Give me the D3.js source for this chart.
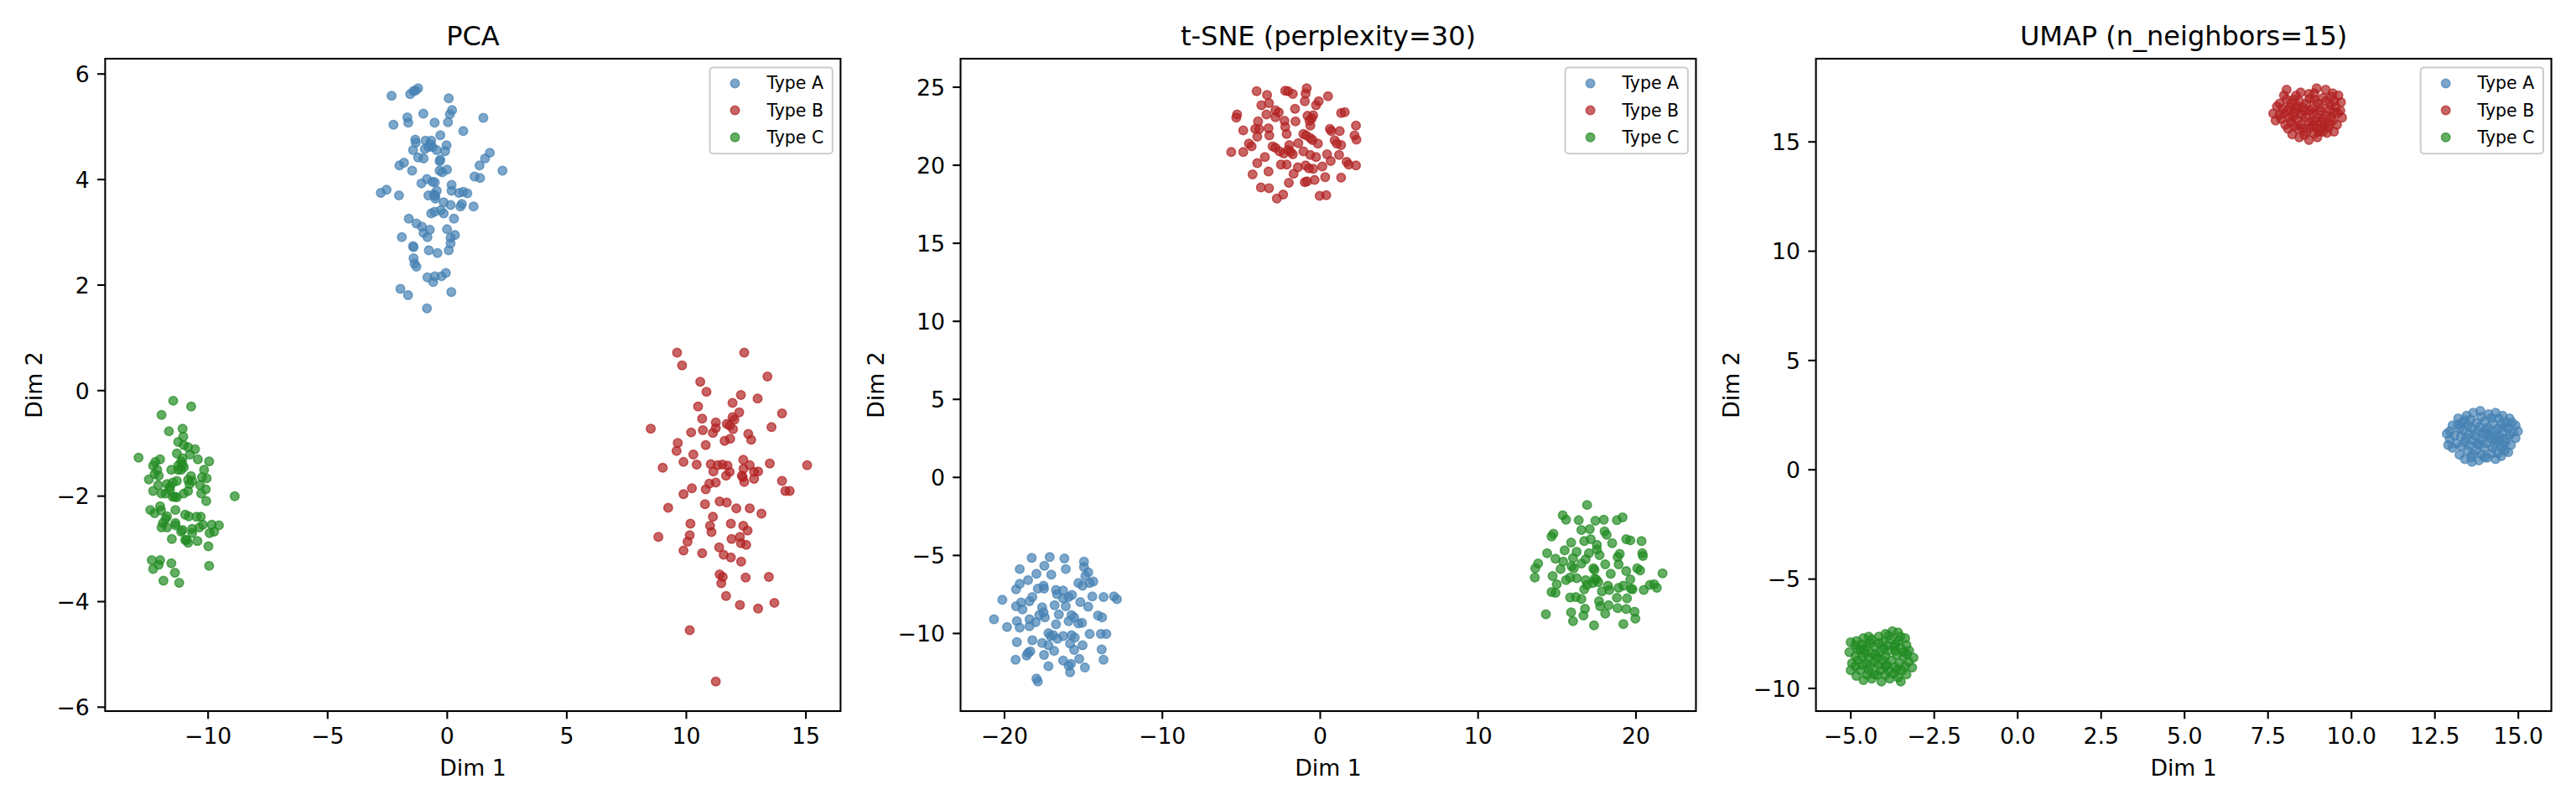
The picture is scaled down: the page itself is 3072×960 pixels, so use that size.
<!DOCTYPE html>
<html>
<head>
<meta charset="utf-8">
<script src="https://cdn.jsdelivr.net/npm/d3@7"></script>
<style>
body { margin: 0; background: #fff; }
text { font-family: "DejaVu Sans", sans-serif; }
</style>
</head>
<body>
<svg width="3072" height="960"></svg>
<script>
var categories = ["Type A", "Type B", "Type C"];
var colors = ["steelblue", "firebrick", "forestgreen"];
var titles = ["PCA", "t-SNE (perplexity=30)", "UMAP (n_neighbors=15)"];

var pcaXTicks = [-10, -5, 0, 5, 10, 15];
var pcaYTicks = [-6, -4, -2, 0, 2, 4, 6];
var tsneXTicks = [-20, -10, 0, 10, 20];
var tsneYTicks = [-10, -5, 0, 5, 10, 15, 20, 25];
var umapXTicks = [-5, -2.5, 0, 2.5, 5, 7.5, 10, 12.5, 15];
var umapYTicks = [-10, -5, 0, 5, 10, 15];

// PCA embedding
var pcaA = [[-2.31,5.58],[-1.53,5.61],[-1.39,5.67],[-1.20,5.72],[-1.30,5.68],[0.08,5.53],[0.22,5.31],[0.13,5.23],[1.53,5.16],[-1.65,5.17],
  [-1.61,5.07],[-2.23,5.03],[-0.98,5.24],[-0.51,5.07],[0.05,5.08],[0.69,4.91],[-0.27,4.83],[-1.32,4.75],[-1.30,4.69],[-0.89,4.73],
  [-0.65,4.73],[-0.77,4.61],[-0.92,4.57],[-0.60,4.61],[-0.42,4.55],[-0.01,4.64],[-0.07,4.53],[-1.41,4.55],[-1.20,4.41],[-0.97,4.39],
  [-0.30,4.34],[1.80,4.50],[1.60,4.39],[1.37,4.26],[2.33,4.16],[-1.98,4.26],[-1.79,4.31],[-1.45,4.16],[-0.30,4.16],[-0.19,4.13],
  [0.01,4.18],[1.16,4.05],[1.39,4.02],[-1.06,3.92],[-0.83,4.00],[-0.60,3.95],[-0.50,3.94],[0.20,3.89],[0.20,3.78],[-2.76,3.74],
  [-2.52,3.80],[-2.00,3.69],[-0.77,3.69],[-0.54,3.71],[-0.42,3.78],[-0.48,3.63],[0.51,3.74],[0.69,3.76],[0.86,3.73],[-0.13,3.56],
  [0.16,3.51],[0.63,3.53],[0.57,3.48],[1.12,3.48],[-0.25,3.41],[-0.13,3.35],[-0.65,3.35],[-0.51,3.38],[0.30,3.25],[-1.59,3.25],
  [-1.27,3.16],[-1.04,3.10],[-0.71,3.04],[-0.97,2.98],[-0.81,2.90],[0.01,3.05],[0.16,2.89],[0.34,2.94],[0.16,2.78],[0.08,2.65],
  [-1.88,2.90],[-1.39,2.71],[-0.75,2.65],[-0.39,2.60],[-1.39,2.50],[-1.35,2.40],[-1.27,2.34],[-0.81,2.14],[-0.50,2.16],[-0.57,2.05],
  [-0.22,2.16],[-0.04,2.22],[-1.94,1.92],[-1.62,1.80],[0.19,1.86],[-0.83,1.55],[-0.27,4.37],[-0.69,4.66],[-0.48,3.68],[-1.41,2.73]];
var pcaB = [[9.63,0.71],[12.44,0.71],[9.84,0.47],[13.41,0.26],[10.60,0.16],[10.86,-0.03],[12.30,-0.09],[13.00,-0.16],[11.95,-0.24],[10.51,-0.31],
  [12.23,-0.42],[14.02,-0.44],[10.68,-0.54],[11.25,-0.61],[11.95,-0.51],[12.03,-0.56],[11.71,-0.64],[11.83,-0.67],[11.97,-0.74],[11.25,-0.72],
  [11.13,-0.81],[10.71,-0.76],[10.22,-0.80],[8.53,-0.73],[13.58,-0.70],[12.61,-0.83],[12.73,-0.94],[11.62,-0.96],[11.85,-0.92],[9.66,-1.00],
  [9.61,-1.15],[10.83,-1.04],[10.31,-1.22],[9.90,-1.36],[10.45,-1.41],[9.03,-1.47],[11.04,-1.40],[11.33,-1.42],[11.53,-1.41],[11.74,-1.43],
  [11.15,-1.54],[11.83,-1.55],[11.68,-1.62],[12.40,-1.32],[12.67,-1.42],[12.41,-1.49],[12.34,-1.62],[12.44,-1.74],[12.85,-1.55],[13.02,-1.54],
  [12.85,-1.68],[13.51,-1.39],[15.07,-1.42],[14.02,-1.72],[14.16,-1.91],[14.34,-1.91],[11.25,-1.75],[10.98,-1.77],[10.83,-1.88],[10.25,-1.86],
  [9.90,-1.97],[9.26,-2.23],[10.80,-2.16],[11.41,-2.11],[11.71,-2.13],[12.11,-2.24],[12.67,-2.24],[13.16,-2.34],[11.13,-2.40],[11.01,-2.57],
  [11.07,-2.69],[10.19,-2.53],[10.16,-2.75],[10.07,-2.87],[9.90,-3.04],[8.85,-2.78],[10.68,-3.09],[11.88,-2.53],[12.40,-2.57],[12.58,-2.66],
  [11.91,-2.82],[12.26,-2.78],[12.30,-2.90],[12.52,-2.93],[11.39,-2.98],[11.58,-3.12],[11.88,-3.17],[12.31,-3.25],[11.41,-3.49],[11.54,-3.54],
  [11.48,-3.66],[12.50,-3.55],[13.47,-3.54],[11.68,-3.90],[12.26,-4.07],[13.02,-4.14],[13.70,-4.03],[10.16,-4.55],[11.25,-5.52],[12.38,-1.65]];
var pcaC = [[-11.44,-0.20],[-10.69,-0.31],[-11.93,-0.47],[-11.62,-0.78],[-11.05,-0.73],[-11.02,-0.88],[-11.23,-0.98],[-11.00,-1.04],[-10.82,-1.08],[-10.53,-1.12],
  [-11.29,-1.20],[-10.74,-1.22],[-10.41,-1.31],[-12.89,-1.28],[-11.99,-1.31],[-12.19,-1.36],[-12.28,-1.43],[-11.11,-1.35],[-11.23,-1.43],[-11.00,-1.46],
  [-9.94,-1.35],[-10.15,-1.51],[-11.52,-1.51],[-11.11,-1.51],[-12.22,-1.59],[-12.46,-1.69],[-10.70,-1.63],[-10.82,-1.70],[-10.24,-1.65],[-10.04,-1.67],
  [-11.70,-1.78],[-11.46,-1.75],[-11.29,-1.72],[-11.58,-1.83],[-12.07,-1.80],[-12.28,-1.91],[-10.76,-1.78],[-10.32,-1.80],[-10.08,-1.88],[-11.93,-1.96],
  [-11.76,-1.96],[-11.46,-2.02],[-11.29,-2.03],[-11.00,-1.96],[-10.82,-1.91],[-10.27,-1.96],[-10.06,-2.10],[-8.87,-2.01],[-12.40,-2.27],[-12.22,-2.33],
  [-11.99,-2.20],[-11.95,-2.28],[-11.35,-2.27],[-11.70,-2.39],[-11.87,-2.52],[-11.76,-2.44],[-11.35,-2.52],[-10.94,-2.36],[-10.79,-2.39],[-10.47,-2.40],
  [-10.29,-2.40],[-11.93,-2.60],[-11.70,-2.60],[-11.35,-2.56],[-11.05,-2.65],[-10.65,-2.63],[-10.35,-2.60],[-10.20,-2.55],[-9.83,-2.55],[-9.53,-2.56],
  [-9.92,-2.71],[-9.73,-2.68],[-10.65,-2.71],[-11.50,-2.82],[-10.94,-2.84],[-10.82,-2.89],[-10.43,-2.86],[-9.97,-2.96],[-12.34,-3.22],[-11.99,-3.22],
  [-12.05,-3.31],[-12.28,-3.39],[-11.52,-3.28],[-11.37,-3.46],[-11.85,-3.61],[-11.19,-3.65],[-9.94,-3.33],[-11.11,-2.68],[-11.58,-1.89],[-10.88,-2.84],
  [-11.05,-1.29],[-11.05,-1.41],[-10.65,-1.72],[-11.37,-2.02],[-12.05,-1.62],[-11.23,-1.51],[-12.11,-1.51]];

// t-SNE embedding
var tsneA = [[-18.25,-5.18],[-17.11,-5.13],[-16.18,-5.22],[-14.94,-5.42],[-19.01,-5.90],[-17.45,-5.69],[-16.09,-5.90],[-14.94,-5.77],[-17.95,-6.20],[-17.01,-6.26],
  [-14.67,-6.11],[-14.85,-6.35],[-18.48,-6.61],[-19.01,-6.85],[-19.24,-7.20],[-17.86,-7.15],[-17.50,-6.97],[-17.47,-7.15],[-16.71,-7.24],[-16.26,-7.28],
  [-16.65,-7.51],[-15.29,-6.79],[-15.03,-6.97],[-14.58,-6.79],[-14.35,-6.70],[-15.70,-7.56],[-15.91,-7.69],[-16.26,-7.78],[-14.41,-7.65],[-13.70,-7.69],
  [-13.04,-7.65],[-12.85,-7.83],[-20.11,-7.87],[-18.92,-8.04],[-18.39,-7.96],[-18.21,-7.69],[-19.24,-8.28],[-18.83,-8.49],[-16.80,-8.22],[-16.09,-8.28],
  [-15.17,-8.01],[-14.67,-8.31],[-17.59,-8.35],[-17.50,-8.67],[-17.42,-8.99],[-17.77,-8.85],[-16.53,-8.81],[-15.73,-8.85],[-15.56,-8.99],[-15.91,-9.24],
  [-20.64,-9.12],[-19.81,-9.62],[-19.19,-9.24],[-19.01,-9.65],[-18.39,-9.12],[-18.39,-9.56],[-18.00,-9.30],[-16.71,-9.44],[-15.29,-9.39],[-15.06,-9.35],
  [-14.05,-8.88],[-13.79,-8.99],[-14.58,-10.06],[-13.87,-10.06],[-13.52,-10.06],[-17.19,-10.01],[-16.88,-10.14],[-16.62,-10.37],[-16.26,-10.19],[-15.73,-10.14],
  [-15.52,-10.28],[-19.19,-10.58],[-18.21,-10.46],[-17.59,-10.64],[-17.19,-10.78],[-15.82,-10.67],[-15.03,-10.78],[-18.48,-11.26],[-18.34,-11.17],[-17.47,-11.40],
  [-16.83,-11.14],[-15.56,-11.08],[-13.82,-11.05],[-19.27,-11.71],[-17.19,-12.12],[-16.26,-11.76],[-15.91,-12.10],[-15.82,-12.51],[-15.24,-11.66],[-14.88,-12.21],
  [-13.70,-11.71],[-17.95,-12.92],[-17.86,-13.10],[-15.77,-11.98],[-17.06,-10.19],[-18.57,-11.44]];
var tsneB = [[-4.00,24.72],[-3.34,24.48],[-2.19,24.75],[-2.01,24.72],[-1.71,24.54],[-0.83,24.90],[-0.90,24.57],[-0.95,24.07],[0.52,24.40],[-0.07,24.07],
  [-0.24,23.82],[-3.70,23.82],[-3.22,23.95],[-1.57,23.59],[-5.24,23.23],[-5.29,23.02],[-3.38,23.23],[-2.81,23.50],[-2.60,23.36],[-2.81,23.05],
  [-0.78,23.14],[-0.42,23.18],[1.35,23.32],[1.58,23.38],[-0.65,22.82],[-0.60,22.52],[-2.24,22.82],[-1.54,22.79],[-3.91,22.79],[-4.85,22.21],
  [-4.09,22.30],[-3.84,22.29],[-3.25,22.34],[-3.20,21.89],[-2.19,22.43],[-2.10,21.98],[-3.96,21.80],[0.64,22.30],[0.73,22.16],[1.26,22.16],
  [2.29,22.52],[2.20,21.89],[2.32,21.62],[-1.04,21.98],[-0.86,21.89],[-0.60,21.71],[-0.46,21.59],[-0.12,21.36],[0.94,21.57],[1.08,21.36],
  [1.35,21.27],[-4.49,21.36],[-4.32,21.18],[-5.61,20.82],[-4.85,20.82],[-2.99,21.18],[-2.81,21.09],[-2.55,20.86],[-1.93,21.27],[-1.84,20.82],
  [-1.71,20.68],[-1.36,21.39],[-1.04,20.86],[-0.60,20.64],[-0.24,20.50],[0.46,20.68],[1.22,20.64],[0.69,20.25],[-3.96,20.11],[-3.48,20.50],
  [-2.46,20.02],[-2.10,20.02],[-1.39,19.84],[-0.90,19.96],[-0.69,19.78],[-0.42,19.75],[0.16,19.89],[1.70,20.19],[1.83,20.02],[2.29,19.96],
  [-4.26,19.39],[-3.25,19.57],[-1.66,19.43],[-0.95,18.89],[-0.81,18.94],[-0.33,19.03],[0.34,19.21],[1.35,19.18],[-1.96,18.85],[-3.73,18.55],
  [-3.22,18.50],[-2.32,18.10],[-2.72,17.84],[-0.01,18.01],[0.41,18.05],[-2.01,20.96],[-0.51,22.97],[-2.28,20.73]];
var tsneC = [[16.93,-1.79],[15.39,-2.45],[15.60,-2.74],[16.40,-2.77],[17.46,-2.81],[17.99,-2.74],[18.82,-2.77],[19.18,-2.59],[16.57,-3.40],[17.10,-3.34],
  [18.04,-3.49],[18.17,-3.70],[14.80,-3.63],[14.68,-3.81],[15.92,-4.20],[16.75,-4.11],[17.16,-3.99],[17.55,-4.35],[18.52,-4.24],[19.41,-3.99],
  [19.67,-4.06],[20.38,-4.11],[14.40,-4.88],[15.51,-4.70],[16.27,-4.79],[17.05,-4.88],[17.55,-4.65],[17.72,-5.01],[19.00,-4.92],[18.87,-5.13],
  [20.43,-4.88],[20.47,-5.06],[13.83,-5.54],[13.65,-5.85],[13.62,-6.44],[14.93,-5.24],[15.42,-5.42],[16.04,-5.19],[15.25,-5.90],[15.95,-5.72],
  [16.09,-5.85],[16.57,-5.54],[16.84,-5.27],[18.08,-5.60],[18.93,-5.60],[17.33,-5.85],[17.40,-5.95],[19.41,-6.03],[20.11,-5.85],[20.29,-5.99],
  [21.71,-6.17],[14.75,-6.35],[15.60,-6.61],[15.86,-6.44],[16.27,-6.49],[16.84,-6.61],[17.51,-6.56],[17.64,-6.74],[18.43,-6.20],[19.67,-6.56],
  [15.01,-6.88],[14.68,-7.37],[14.93,-7.42],[16.75,-7.20],[16.93,-6.92],[17.28,-6.79],[17.87,-7.33],[18.25,-6.97],[18.34,-7.24],[18.93,-7.10],
  [19.23,-6.97],[19.71,-7.15],[19.81,-7.20],[20.52,-7.24],[20.91,-6.92],[21.18,-6.88],[21.35,-7.10],[15.86,-7.72],[16.22,-7.69],[16.57,-7.81],
  [17.69,-7.96],[17.76,-8.28],[18.29,-8.22],[18.82,-7.74],[19.46,-7.78],[18.87,-8.40],[19.41,-8.46],[19.94,-8.63],[19.99,-9.08],[16.80,-8.44],
  [16.70,-8.88],[15.92,-8.67],[16.04,-9.24],[18.08,-8.76],[14.32,-8.80],[17.37,-9.51],[19.23,-9.42],[17.41,-6.53]];

// UMAP embedding (tight blobs, points estimated from the blob outlines and fill)
var umapA = [[12.96,1.75],[12.96,1.37],[13.04,2.01],[13.21,2.33],[13.46,2.46],[13.66,2.59],[13.87,2.68],[14.12,2.52],[14.33,2.59],[14.54,2.46],
  [14.75,2.33],[14.93,2.01],[15.00,1.75],[14.93,1.43],[14.79,1.11],[14.71,0.79],[14.50,0.60],[14.33,0.47],[14.08,0.54],[13.83,0.41],
  [13.62,0.35],[13.41,0.47],[13.25,0.67],[13.04,0.99],[12.91,1.11],[12.87,1.63],[13.25,1.88],[13.50,2.01],[13.75,2.14],[14.00,2.20],
  [14.25,2.14],[14.50,2.07],[14.71,1.88],[14.75,1.56],[14.54,1.69],[14.29,1.75],[14.04,1.82],[13.79,1.75],[13.54,1.63],[13.29,1.50],
  [13.16,1.18],[13.41,1.24],[13.66,1.31],[13.92,1.37],[14.17,1.43],[14.42,1.31],[14.62,1.24],[14.50,0.99],[14.25,0.99],[14.00,0.99],
  [13.75,0.86],[13.50,0.86],[13.92,0.67],[14.21,0.73],[13.33,2.14],[13.58,2.27],[14.42,2.33],[14.83,2.14],[13.83,1.11],[14.08,1.63],
  [14.33,1.37],[13.35,1.80],[13.60,1.90],[13.85,1.95],[14.10,1.90],[14.40,1.85],[14.60,1.95],[13.45,1.45],[13.70,1.55],[13.95,1.60],
  [14.20,1.55],[14.45,1.50],[14.65,1.40],[13.30,1.05],[13.55,1.10],[13.80,1.20],[14.05,1.20],[14.30,1.15],[14.55,1.10],[13.65,0.70],
  [14.00,0.55],[14.40,0.75],[13.20,2.05],[13.90,2.40],[14.20,2.35],[14.65,2.15],[13.10,1.55],[14.85,1.70],[13.60,0.55],[14.60,0.85],
  [13.40,2.25]];
var umapB = [[8.07,17.37],[8.49,17.24],[8.97,17.43],[9.24,17.37],[9.62,17.11],[9.70,16.79],[9.68,16.41],[9.73,16.09],[9.58,15.77],[9.49,15.45],
  [9.28,15.39],[8.99,15.19],[8.74,15.07],[8.45,15.19],[8.24,15.32],[8.11,15.58],[8.03,15.77],[7.74,15.96],[7.67,16.28],[7.78,16.60],
  [7.86,16.73],[7.99,17.11],[8.28,16.92],[8.74,17.18],[9.41,17.05],[8.16,16.54],[8.41,16.60],[8.66,16.73],[8.91,16.92],[9.16,16.99],
  [9.37,16.67],[9.07,16.54],[8.78,16.41],[8.53,16.22],[8.28,16.15],[7.99,16.28],[7.91,16.03],[8.20,15.90],[8.49,15.77],[8.74,15.90],
  [8.99,16.09],[9.24,16.22],[9.49,16.35],[9.45,15.96],[9.20,15.77],[8.95,15.64],[8.66,15.45],[8.41,15.58],[8.57,16.54],[8.87,16.28],
  [9.12,15.90],[9.32,15.64],[8.32,16.35],[9.53,16.60],[9.03,15.45],[8.78,15.64],[8.07,16.92],[8.10,16.40],[8.35,16.50],[8.60,16.40],
  [8.85,16.50],[9.10,16.40],[9.35,16.45],[8.20,16.75],[8.45,16.85],[8.75,16.95],[9.00,16.75],[9.25,16.85],[9.50,16.85],[7.95,16.50],
  [8.15,16.10],[8.40,16.00],[8.65,16.10],[8.90,15.95],[9.15,16.05],[9.40,16.10],[9.60,16.30],[8.30,15.70],[8.55,15.60],[8.85,15.75],
  [9.10,15.60],[9.35,15.80],[8.60,15.30],[8.90,15.35],[9.15,15.45],[8.35,17.10],[8.90,17.20],[9.45,17.20],[7.85,16.20]];
var umapC = [[-4.99,-7.91],[-5.03,-8.36],[-4.95,-8.87],[-4.99,-9.19],[-4.82,-9.45],[-4.61,-9.64],[-4.36,-9.57],[-4.07,-9.70],[-3.82,-9.57],[-3.57,-9.51],
  [-3.32,-9.38],[-3.15,-9.06],[-3.11,-8.61],[-3.24,-8.29],[-3.32,-8.04],[-3.36,-7.72],[-3.57,-7.46],[-3.74,-7.40],[-3.95,-7.53],[-4.15,-7.65],
  [-4.36,-7.78],[-4.61,-7.72],[-4.82,-7.85],[-4.28,-9.38],[-3.49,-9.70],[-4.78,-8.23],[-4.53,-8.10],[-4.28,-8.10],[-4.03,-7.91],[-3.78,-7.78],
  [-3.57,-7.85],[-3.49,-8.17],[-3.40,-8.55],[-3.61,-8.49],[-3.86,-8.29],[-4.11,-8.36],[-4.36,-8.42],[-4.65,-8.55],[-4.78,-8.74],[-4.53,-8.87],
  [-4.28,-8.81],[-4.03,-8.74],[-3.78,-8.74],[-3.53,-8.87],[-3.36,-9.00],[-3.61,-9.19],[-3.86,-9.19],[-4.11,-9.19],[-4.45,-9.19],[-4.70,-9.19],
  [-3.95,-9.00],[-4.20,-8.61],[-3.69,-8.10],[-4.45,-8.61],[-4.61,-8.23],[-4.85,-8.05],[-4.65,-8.00],[-4.40,-7.95],[-4.15,-7.95],[-3.90,-8.05],
  [-3.65,-8.00],[-3.40,-8.35],[-3.65,-8.30],[-3.95,-8.55],[-4.25,-8.45],[-4.55,-8.40],[-4.85,-8.55],[-4.65,-8.95],[-4.40,-9.00],[-4.15,-8.95],
  [-3.90,-8.95],[-3.65,-9.05],[-3.45,-9.20],[-4.20,-9.40],[-4.50,-9.40],[-3.95,-9.40],[-3.70,-9.35],[-4.85,-9.00],[-3.25,-8.80],[-3.50,-7.65],
  [-3.85,-7.60],[-4.45,-7.65],[-3.30,-8.45],[-4.00,-8.20],[-4.70,-8.25]];

var panels = [
  {title: titles[0], series: [pcaA, pcaB, pcaC], xt: pcaXTicks, yt: pcaYTicks, fmt: d3.format(".0f")},
  {title: titles[1], series: [tsneA, tsneB, tsneC], xt: tsneXTicks, yt: tsneYTicks, fmt: d3.format(".0f")},
  {title: titles[2], series: [umapA, umapB, umapC], xt: umapXTicks, yt: umapYTicks, fmt: d3.format(".1f"), yfmt: d3.format(".0f")}
];

var svg = d3.select("svg");
svg.append("rect").attr("width", 3072).attr("height", 960).attr("fill", "#fff");

var axLeft = [125.4, 1145.5, 2165.6];
var axTop = 70, axW = 877, axH = 778;
var tickLen = 9.3, tickPad = 9.3;
var fs = 26.7;

panels.forEach(function(p, i) {
  var g = svg.append("g")
      .attr("transform", "translate(" + axLeft[i] + "," + axTop + ")");

  // matplotlib style 5% margins around the data
  var all = d3.merge(p.series);
  var xe = d3.extent(all, function(d) { return d[0]; });
  var ye = d3.extent(all, function(d) { return d[1]; });
  var xm = (xe[1] - xe[0]) * 0.05, ym = (ye[1] - ye[0]) * 0.05;

  var x = d3.scaleLinear().domain([xe[0] - xm, xe[1] + xm]).range([0, axW]);
  var y = d3.scaleLinear().domain([ye[0] - ym, ye[1] + ym]).range([axH, 0]);

  p.series.forEach(function(s, k) {
    g.append("g").selectAll("circle")
      .data(s)
      .enter().append("circle")
        .attr("cx", function(d) { return x(d[0]); })
        .attr("cy", function(d) { return y(d[1]); })
        .attr("r", 5.2)
        .attr("fill", colors[k])
        .attr("fill-opacity", 0.7)
        .attr("stroke", colors[k])
        .attr("stroke-opacity", 0.7)
        .attr("stroke-width", 1.6);
  });

  var xa = g.append("g")
      .attr("transform", "translate(0," + axH + ")")
      .call(d3.axisBottom(x).tickValues(p.xt).tickFormat(p.fmt).tickSize(tickLen).tickPadding(tickPad));
  xa.select(".domain").remove();
  xa.attr("font-family", null).attr("font-size", null);
  xa.selectAll("line").attr("stroke", "#000").attr("stroke-width", 2.1);
  xa.selectAll("text").attr("y", 39).attr("dy", null).attr("fill", "#000").attr("font-size", fs);

  var ya = g.append("g")
      .call(d3.axisLeft(y).tickValues(p.yt).tickFormat(p.yfmt || p.fmt).tickSize(tickLen).tickPadding(tickPad));
  ya.select(".domain").remove();
  ya.attr("font-family", null).attr("font-size", null);
  ya.selectAll("line").attr("stroke", "#000").attr("stroke-width", 2.1);
  ya.selectAll("text").attr("dy", "0.365em").attr("fill", "#000").attr("font-size", fs);

  var maxW = d3.max(ya.selectAll("text").nodes(), function(n) { return n.getBBox().width; });

  g.append("rect")
      .attr("width", axW)
      .attr("height", axH)
      .attr("fill", "none")
      .attr("stroke", "#000")
      .attr("stroke-width", 2.1);

  g.append("text")
      .attr("x", axW / 2)
      .attr("y", -16)
      .attr("text-anchor", "middle")
      .attr("font-size", 32)
      .text(p.title);

  g.append("text")
      .attr("x", axW / 2)
      .attr("y", axH + 77)
      .attr("text-anchor", "middle")
      .attr("font-size", fs)
      .text("Dim 1");

  var lx = -(tickLen + tickPad + maxW + 10.7 + 6.3);
  g.append("text")
      .attr("transform", "translate(" + lx + "," + (axH / 2) + ") rotate(-90)")
      .attr("text-anchor", "middle")
      .attr("font-size", fs)
      .text("Dim 2");

  // legend, upper right
  var lg = g.append("g")
      .attr("transform", "translate(" + (axW - 9.6 - 146.3) + ",10.4)");
  lg.append("rect")
      .attr("width", 146.3)
      .attr("height", 102.8)
      .attr("rx", 4)
      .attr("fill", "#fff")
      .attr("fill-opacity", 0.8)
      .attr("stroke", "#cccccc")
      .attr("stroke-width", 2);
  categories.forEach(function(c, k) {
    lg.append("circle")
        .attr("cx", 30)
        .attr("cy", 19 + k * 32.2)
        .attr("r", 5.2)
        .attr("fill", colors[k])
        .attr("fill-opacity", 0.7)
        .attr("stroke", colors[k])
        .attr("stroke-opacity", 0.7)
        .attr("stroke-width", 1.6);
    lg.append("text")
        .attr("x", 67.9)
        .attr("y", 19 + k * 32.2 + 7)
        .attr("font-size", 20.5)
        .text(c);
  });
});
</script>
</body>
</html>
